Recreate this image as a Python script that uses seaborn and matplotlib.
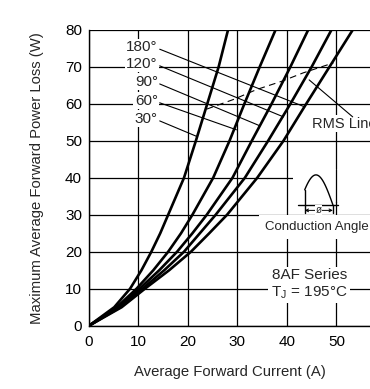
import numpy as np
import pandas as pd
import matplotlib
matplotlib.use("Agg")
import matplotlib.pyplot as plt
import seaborn as sns
from matplotlib.patches import Rectangle

# Curves: current (A) reached at each power level (W)
power = [0, 5, 10, 15, 20, 25, 30, 40, 50, 60, 70, 80]
i_30 = [0, 5.1, 8.3, 10.6, 12.6, 14.4, 16.0, 19.2, 21.6, 23.9, 26.2, 28.1]
i_60 = [0, 5.6, 9.6, 13.0, 16.0, 18.6, 20.9, 25.1, 28.4, 31.4, 34.5, 37.7]
i_90 = [0, 6.0, 10.2, 14.2, 17.8, 20.9, 23.8, 29.0, 32.9, 36.9, 40.7, 44.3]
i_120 = [0, 6.3, 10.8, 15.2, 19.2, 22.4, 25.6, 31.5, 36.2, 40.7, 45.0, 49.0]
i_180 = [0, 6.6, 11.3, 16.2, 20.6, 24.3, 27.9, 34.0, 39.3, 43.9, 48.6, 53.3]
angles = ["30°", "60°", "90°", "120°", "180°"]

# RMS limit line
rms_current = [23.8, 29.2, 33.9, 38.9, 43.3, 49.4]
rms_power = [58.6, 61.2, 63.9, 66.1, 68.4, 71.1]

xticks = [0, 10, 20, 30, 40, 50]
yticks = [0, 10, 20, 30, 40, 50, 60, 70, 80]

rows = []
for ang, cur in zip(angles, [i_30, i_60, i_90, i_120, i_180]):
    for i, p in zip(cur, power):
        rows.append({"angle": ang, "current": i, "power": p})
df = pd.DataFrame(rows)

sns.set_theme(style="white")
plt.rcParams["font.family"] = ["Liberation Sans", "DejaVu Sans"]

fig = plt.figure(figsize=(3.7, 3.89), dpi=100)
ax = fig.add_axes([0.2405, 0.1627, 0.7595, 0.7602])

sns.lineplot(data=df, x="current", y="power", hue="angle", units="angle",
             estimator=None, sort=False, palette=["black"] * 5,
             linewidth=1.9, legend=False, ax=ax, zorder=4)
sns.lineplot(x=rms_current, y=rms_power, color="black", linewidth=0.8,
             ax=ax, zorder=3, linestyle=(0, (6, 4)))

ax.set_xlim(0, 56.8)
ax.set_ylim(0, 80)
ax.set_xticks(xticks)
ax.set_yticks(yticks)
ax.grid(True, color="black", linewidth=0.9)
ax.set_axisbelow(True)
for s in ["top", "right"]:
    ax.spines[s].set_visible(False)
for s in ["left", "bottom"]:
    ax.spines[s].set_color("black")
    ax.spines[s].set_linewidth(1.0)
ax.tick_params(length=0, labelsize=11, colors="black")
ax.tick_params(axis="y", pad=5)
ax.tick_params(axis="x", pad=7)
ax.set_xlabel("Average Forward Current (A)", fontsize=10.7, labelpad=11)
ax.set_ylabel("Maximum Average Forward Power Loss (W)", fontsize=10.7, labelpad=15)

box = dict(facecolor="white", edgecolor="none", pad=1.0)

# angle labels with leader lines
label_y = [56.0, 60.9, 66.0, 70.9, 75.4]
leader_end = [(21.8, 51.2), (29.8, 53.0), (34.5, 54.1), (39.3, 56.5), (43.6, 59.2)]
for ang, ly, (ex, ey) in zip(angles, label_y, leader_end):
    ax.text(13.9, ly, ang, ha="right", va="center", fontsize=11, bbox=box, zorder=5)
    ax.plot([14.3, ex], [ly - 0.6, ey], color="black", linewidth=0.8, zorder=5)

# RMS line label (cut by the right edge, as in the source)
ax.text(45.0, 54.7, "RMS Line", ha="left", va="center", fontsize=10.5, bbox=box, zorder=5)
ax.plot([44.5, 53.3], [66.5, 56.5], color="black", linewidth=0.8, zorder=5)

# conduction angle sketch
ax.add_patch(Rectangle((41.2, 33.5), 16, 9, facecolor="white", edgecolor="none", zorder=2))
ax.plot([50, 50], [33.5, 42.5], color="black", linewidth=0.9, zorder=2.5)
theta = np.linspace(np.pi / 6, np.pi, 40)
xs = 43.6 + (theta - np.pi / 6) / (5 * np.pi / 6) * 5.7
ys = 32.7 + 8.1 * np.sin(theta)
ax.plot(xs, ys, color="black", linewidth=1.0, zorder=5)
ax.plot([43.6, 43.6], [30.6, 32.7 + 8.1 * 0.5], color="black", linewidth=1.0, zorder=5)
ax.plot([49.3, 49.3], [30.6, 32.7], color="black", linewidth=1.0, zorder=5)
ax.plot([42.2, 50.3], [32.7, 32.7], color="black", linewidth=1.0, zorder=5)
ax.annotate("", xy=(43.6, 31.2), xytext=(49.3, 31.2),
            arrowprops=dict(arrowstyle="<->", lw=0.7, color="black",
                            shrinkA=0, shrinkB=0, mutation_scale=5), zorder=5)
ax.text(46.45, 31.2, "ø", ha="center", va="center", fontsize=7,
        bbox=dict(facecolor="white", edgecolor="none", pad=0.3), zorder=6)
ax.text(46.0, 26.7, "Conduction Angle", ha="center", va="center", fontsize=9.5,
        bbox=dict(facecolor="white", edgecolor="none", pad=4), zorder=5)

ax.text(44.5, 11.2, "8AF Series\nT$_\\mathregular{J}$ = 195°C", ha="center", va="center",
        fontsize=11, linespacing=1.15, bbox=dict(facecolor="white", edgecolor="none", pad=2),
        zorder=5)

fig.savefig("out.png", dpi=100)
